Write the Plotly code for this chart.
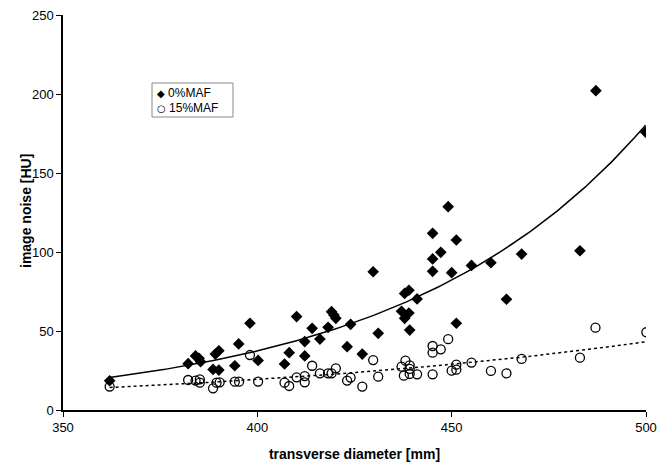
import numpy as np
import plotly.graph_objects as go

# 0% MAF (filled diamonds)
maf0_x = [362.0, 382.2, 384.1, 385.0, 385.4, 388.6, 390.1, 389.2, 390.1, 394.2,
          395.2, 398.1, 400.2, 407.0, 408.2, 410.1, 412.2, 412.2, 414.1, 416.1,
          418.2, 419.1, 419.7, 420.2, 423.1, 424.0, 427.0, 429.8, 431.1, 437.1,
          437.9, 439.0, 439.2, 437.9, 439.0, 441.1, 445.1, 445.1, 445.1, 447.2,
          449.1, 451.2, 450.0, 451.2, 455.1, 460.1, 464.1, 468.0, 483.0, 487.1,
          499.9]
maf0_y = [18.5, 29.3, 34.2, 32.7, 30.6, 25.7, 25.3, 35.4, 37.5, 28.0,
          41.8, 54.9, 31.4, 29.1, 36.3, 59.1, 43.3, 34.2, 51.7, 44.9,
          52.3, 62.2, 60.1, 58.0, 40.1, 54.2, 35.4, 87.5, 48.5, 62.5,
          58.0, 61.4, 50.6, 73.8, 75.8, 70.3, 111.8, 95.6, 87.8, 99.8,
          128.7, 107.6, 86.9, 54.9, 91.5, 93.2, 70.1, 98.7, 100.8, 202.1,
          175.8]

# 15% MAF (open circles)
maf15_x = [362.0, 382.2, 384.1, 385.2, 385.2, 388.6, 389.5, 390.3, 394.2, 395.3,
           398.1, 400.2, 407.0, 408.2, 410.1, 412.2, 412.2, 414.1, 416.1, 418.2,
           419.1, 420.2, 423.1, 424.0, 427.0, 429.8, 431.1, 437.1, 438.1, 439.2,
           439.2, 437.7, 439.2, 441.1, 445.1, 445.1, 447.2, 449.1, 445.1, 450.0,
           451.2, 451.2, 455.1, 460.1, 464.1, 468.0, 483.0, 487.0, 500.1]
maf15_y = [14.8, 19.0, 18.6, 19.4, 17.3, 13.7, 17.3, 17.5, 17.9, 17.9,
           34.8, 18.0, 17.3, 15.2, 20.7, 21.5, 17.5, 28.0, 23.2, 23.2,
           23.2, 26.4, 18.6, 20.5, 14.8, 31.6, 21.1, 27.4, 31.2, 28.3,
           26.0, 21.7, 22.8, 22.6, 40.5, 36.3, 38.4, 44.8, 22.6, 24.9,
           28.7, 25.5, 30.0, 24.7, 23.2, 32.3, 33.1, 52.1, 49.2]

x_ticks = [350, 400, 450, 500]
y_ticks = [0, 50, 100, 150, 200, 250]
series_names = ["0%MAF", "15%MAF"]
legend_symbols = ["◆", "○"]


def exp_fit(xs, ys):
    b, ln_a = np.polyfit(np.array(xs), np.log(np.array(ys)), 1)
    xx = np.linspace(min(xs), max(xs), 200)
    return xx, np.exp(ln_a) * np.exp(b * xx)


fx0, fy0 = exp_fit(maf0_x, maf0_y)
fx15, fy15 = exp_fit(maf15_x, maf15_y)

W, H = 657, 463
ML, MR, MT, MB = 63, 11, 15, 53
PW, PH = W - ML - MR, H - MT - MB


def px(xp):
    return (xp - ML) / PW


def py(yp):
    return (H - MB - yp) / PH


fig = go.Figure()
fig.add_trace(go.Scatter(x=fx0, y=fy0, mode="lines", line=dict(color="black", width=1.5),
                         showlegend=False, hoverinfo="skip"))
fig.add_trace(go.Scatter(x=fx15, y=fy15, mode="lines",
                         line=dict(color="black", width=1.5, dash="dot"),
                         showlegend=False, hoverinfo="skip"))
fig.add_trace(go.Scatter(x=maf0_x, y=maf0_y, mode="markers", name=series_names[0],
                         showlegend=False,
                         marker=dict(symbol="diamond", size=9, color="black",
                                     line=dict(width=0))))
fig.add_trace(go.Scatter(x=maf15_x, y=maf15_y, mode="markers", name=series_names[1],
                         showlegend=False,
                         marker=dict(symbol="circle-open", size=9, color="black",
                                     line=dict(width=1.3, color="black"))))

font_family = "Liberation Sans, Arial, sans-serif"

# legend box drawn manually
fig.add_shape(type="rect", xref="paper", yref="paper",
              x0=px(152), x1=px(233), y0=py(117), y1=py(83),
              line=dict(color="#888888", width=1), fillcolor="white", layer="above")
for i, (sym, name) in enumerate(zip(legend_symbols, series_names)):
    fig.add_annotation(x=px(155), y=py(92.5 + 15.5 * i), xref="paper", yref="paper",
                       xanchor="left", yanchor="middle", showarrow=False,
                       text="<span style='font-family:DejaVu Sans;font-size:10px'>" + sym +
                            "</span> " + name,
                       font=dict(family=font_family, size=12, color="black"))

# y-axis title
fig.add_annotation(x=px(16), y=py(211), xref="paper", yref="paper", showarrow=False,
                   textangle=-90, text="<b>image noise [HU]</b>",
                   font=dict(family=font_family, size=14, color="black"))

fig.update_layout(
    width=W, height=H,
    margin=dict(l=ML, r=MR, t=MT, b=MB),
    paper_bgcolor="white", plot_bgcolor="white",
    font=dict(family=font_family, size=13, color="black"),
    showlegend=False,
    xaxis=dict(range=[350, 500], tickvals=x_ticks, showgrid=False, zeroline=False,
               showline=True, linecolor="black", linewidth=1.5, automargin=False,
               ticks="outside", ticklen=5, tickcolor="black",
               title=dict(text="<b>transverse diameter [mm]</b>", font=dict(size=14))),
    yaxis=dict(range=[0, 250], tickvals=y_ticks, showgrid=False, zeroline=False,
               showline=True, linecolor="black", linewidth=1.5, automargin=False,
               ticks="outside", ticklen=5, tickcolor="black"),
)

fig.write_html("out.html", config={"displayModeBar": False},
               post_script="document.body.style.margin='0';document.body.style.padding='0';")
